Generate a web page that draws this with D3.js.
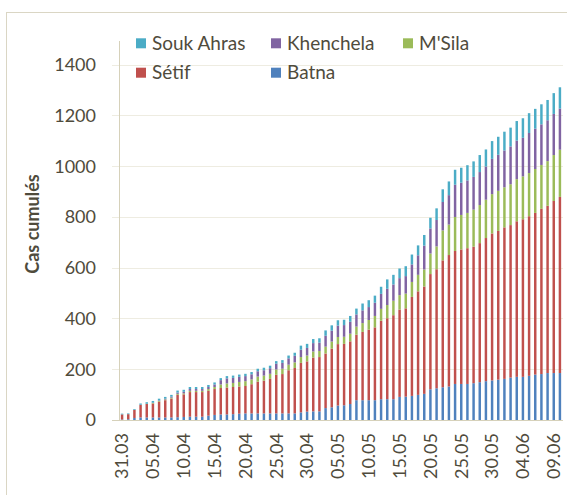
<!DOCTYPE html>
<html>
<head>
<meta charset="utf-8">
<script src="https://cdn.jsdelivr.net/npm/d3@7"></script>
<style>
	body { margin: 0; background: #fff; }
	text { font-family: Lato, "Open Sans", sans-serif; fill: #4F4B3C; }
</style>
</head>
<body>
<div id="fig"></div>
<script>
	// categories (one bar per day)
	var dates = ["31.03",
		"01.04","02.04","03.04","04.04","05.04","06.04","07.04","08.04","09.04","10.04",
		"11.04","12.04","13.04","14.04","15.04","16.04","17.04","18.04","19.04","20.04",
		"21.04","22.04","23.04","24.04","25.04","26.04","27.04","28.04","29.04","30.04",
		"01.05","02.05","03.05","04.05","05.05","06.05","07.05","08.05","09.05","10.05",
		"11.05","12.05","13.05","14.05","15.05","16.05","17.05","18.05","19.05","20.05",
		"21.05","22.05","23.05","24.05","25.05","26.05","27.05","28.05","29.05","30.05","31.05",
		"01.06","02.06","03.06","04.06","05.06","06.06","07.06","08.06","09.06","10.06"];

	// labels shown on the category axis
	var tickLabels = ["31.03","05.04","10.04","15.04","20.04","25.04","30.04","05.05",
		"10.05","15.05","20.05","25.05","30.05","04.06","09.06"];

	// cumulative cases per wilaya
	var batna = [2,3,8,10,10,10,10,10,10,11,12,13,13,13,17,20,22,22,23,25,26,
		26,26,26,26,26,26,26,26,30,33,34,34,47,50,57,58,63,78,78,78,78,82,82,82,91,
		92,95,99,103,121,125,129,132,142,142,142,145,149,153,156,159,162,167,170,170,174,179,181,185,185,185];
	var setif = [20,20,32,50,53,55,62,68,74,88,89,97,97,97,98,102,104,106,107,107,108,
		115,125,129,136,152,155,170,179,195,198,212,214,215,231,242,242,247,258,269,278,287,309,319,331,344,
		348,390,408,423,454,469,500,518,524,530,535,538,548,564,579,586,597,601,613,621,629,637,651,659,678,694];
	var msila = [0,0,0,0,1,2,3,3,4,4,4,5,5,5,7,8,14,16,16,18,19,
		19,20,20,20,21,21,22,22,23,23,24,24,27,28,28,28,30,32,35,38,45,47,52,57,57,
		58,59,65,67,81,90,118,120,134,136,139,146,150,151,155,158,158,161,166,169,170,173,173,176,181,186];
	var khenchela = [0,0,0,0,0,1,2,3,4,5,6,7,7,7,8,10,17,20,20,20,20,
		20,21,21,22,23,23,25,26,29,30,33,33,43,43,45,46,47,48,50,51,52,59,64,64,67,
		69,69,77,94,99,104,112,116,127,127,128,129,130,131,139,142,145,149,152,152,158,159,160,161,162,162];
	var soukAhras = [3,3,3,5,6,7,7,7,7,8,8,8,8,8,8,8,8,9,9,9,9,
		9,10,10,10,10,11,11,12,16,16,16,17,21,21,21,21,23,23,27,27,28,28,37,38,38,
		39,39,39,42,42,46,50,54,59,59,60,61,67,67,70,71,74,74,77,77,78,78,79,80,82,84];

	// stack order, bottom to top
	var seriesNames = ["Batna", "Sétif", "M'Sila", "Khenchela", "Souk Ahras"];
	var seriesColors = ["#4F81BD", "#C0504D", "#9BBB59", "#8064A2", "#4BACC6"];
	var legendOrder = ["Souk Ahras", "Khenchela", "M'Sila", "Sétif", "Batna"];
	var yTicks = [0, 200, 400, 600, 800, 1000, 1200, 1400];

	var width = 567, height = 495;

	// build the table d3.stack wants
	var table = dates.map(function(d, i) {
		return { date: d, "Batna": batna[i], "Sétif": setif[i], "M'Sila": msila[i],
			"Khenchela": khenchela[i], "Souk Ahras": soukAhras[i] };
	});

	var color = d3.scaleOrdinal().domain(seriesNames).range(seriesColors);

	var svg = d3.select("#fig")
		.append("svg")
		.attr("width", width)
		.attr("height", height);

	// chart area border
	svg.append("rect")
		.attr("x", 6.5).attr("y", 12.5)
		.attr("width", 600).attr("height", 520)
		.attr("fill", "none")
		.attr("stroke", "#DAD6C4");

	var x = d3.scaleBand()
		.domain(dates)
		.range([119, 563])
		.paddingInner(0.6)
		.paddingOuter(0.3);

	var y = d3.scaleLinear()
		.domain([0, 1400])
		.range([420, 64.7]);

	// gridlines (with the little outside tick)
	svg.selectAll("line.grid")
		.data(yTicks)
		.enter()
		.append("line")
		.attr("class", "grid")
		.attr("x1", 112).attr("x2", 563)
		.attr("y1", function(d) { return Math.round(y(d)) + 0.5; })
		.attr("y2", function(d) { return Math.round(y(d)) + 0.5; })
		.attr("stroke", function(d) { return d === 0 ? "#D6D1BA" : "#EEECE1"; })
		.attr("stroke-width", 1);

	// vertical axis line
	svg.append("line")
		.attr("x1", 119.5).attr("x2", 119.5)
		.attr("y1", 41).attr("y2", 420)
		.attr("stroke", "#D6D1BA");

	// stacked bars
	var stacked = d3.stack().keys(seriesNames)(table);

	svg.selectAll("g.series")
		.data(stacked)
		.enter()
		.append("g")
		.attr("class", "series")
		.attr("fill", function(d) { return color(d.key); })
		.selectAll("rect")
		.data(function(d) { return d; })
		.enter()
		.append("rect")
		.attr("x", function(d) { return x(d.data.date); })
		.attr("width", x.bandwidth())
		.attr("y", function(d) { return y(d[1]); })
		.attr("height", function(d) { return y(d[0]) - y(d[1]); });

	// y tick labels
	svg.selectAll("text.ytick")
		.data(yTicks)
		.enter()
		.append("text")
		.attr("class", "ytick")
		.attr("x", 96)
		.attr("y", function(d) { return y(d); })
		.attr("dy", "0.35em")
		.style("text-anchor", "end")
		.style("font-size", "18px")
		.text(function(d) { return d; });

	// x tick labels, rotated
	svg.selectAll("text.xtick")
		.data(tickLabels)
		.enter()
		.append("text")
		.attr("class", "xtick")
		.attr("transform", function(d) {
			return "translate(" + (x(d) + x.bandwidth() / 2) + ",433) rotate(-90)";
		})
		.attr("dy", "0.35em")
		.style("text-anchor", "end")
		.style("font-size", "18px")
		.text(function(d) { return d; });

	// y axis title
	svg.append("text")
		.attr("transform", "translate(33,224) rotate(-90)")
		.attr("dy", "0.35em")
		.style("text-anchor", "middle")
		.style("font-size", "18px")
		.style("font-weight", "bold")
		.text("Cas cumulés");

	// legend, 3 columns x 2 rows
	var legendX = [136, 271, 403];
	var legendY = [43.3, 72.7];
	var legend = svg.selectAll("g.legend")
		.data(legendOrder)
		.enter()
		.append("g")
		.attr("class", "legend")
		.attr("transform", function(d, i) {
			return "translate(" + legendX[i % 3] + "," + legendY[Math.floor(i / 3)] + ")";
		});

	legend.append("rect")
		.attr("x", 0).attr("y", -5)
		.attr("width", 10).attr("height", 10)
		.attr("fill", function(d) { return color(d); });

	legend.append("text")
		.attr("x", 16)
		.attr("dy", "0.35em")
		.style("font-size", "19px")
		.text(function(d) { return d; });
</script>
</body>
</html>
